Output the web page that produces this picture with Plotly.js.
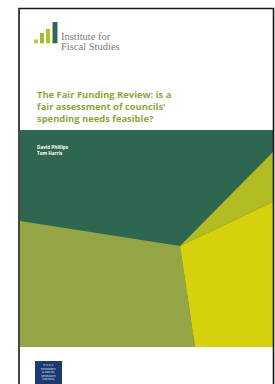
<!DOCTYPE html>
<html><head><meta charset="utf-8">
<script src="https://cdn.plot.ly/plotly-3.0.1.min.js"></script>
<style>html,body{margin:0;padding:0;background:#fff}#c{width:275px;height:384px}</style>
</head><body><div id="c"></div>
<script>
// Cover panel polygons (page coordinates)
const panelX = [20, 273, 273, 20];
const panelY = [130, 130, 347, 347];
const oliveX = [20, 180, 195, 20];
const oliveY = [221, 246, 347, 347];
const limeX = [180, 273, 273];
const limeY = [246, 152, 202];
const yellowX = [180, 273, 273, 195];
const yellowY = [246, 202, 347, 347];
// Logo bars
const barLeft = [34, 40, 46, 52.5];
const barRight = [38, 44, 50, 57.5];
const barTop = [39.5, 33, 29, 22];
const barBase = 43.3;
const barColors = ['#b4cd45', '#9fb83a', '#b5c41c', '#2f6a50'];
// Texts
const logoLines = ['Institute for', 'Fiscal Studies'];
const titleLines = ['The Fair Funding Review: is a', "fair assessment of councils'", 'spending needs feasible?'];
const authors = ['David Phillips', 'Tom Harris'];
const esrcLines = ['E·S·R·C', 'ECONOMIC', '& SOCIAL', 'RESEARCH', 'COUNCIL'];

function poly(xs, ys, color) {
  return {x: xs.concat([xs[0]]), y: ys.concat([ys[0]]), type: 'scatter', mode: 'lines',
    fill: 'toself', fillcolor: color, line: {width: 0, color: color}, hoverinfo: 'skip', showlegend: false};
}
const traces = [
  poly(panelX, panelY, '#2f6650'),
  poly(oliveX, oliveY, '#94a546'),
  poly(limeX, limeY, '#b1bb22'),
  poly(yellowX, yellowY, '#d5d10c')
];
for (let i = 0; i < barLeft.length; i++) {
  traces.push(poly([barLeft[i], barRight[i], barRight[i], barLeft[i]],
                   [barTop[i], barTop[i], barBase, barBase], barColors[i]));
}
traces.push(poly([35, 62, 62, 35], [361, 361, 386, 386], '#1e3a72'));

const ann = [
  {x: 60, y: 36.5, text: logoLines[0], showarrow: false, align: 'left',
   xanchor: 'left', yanchor: 'middle', borderpad: 0,
   font: {family: 'Liberation Serif, serif', size: 10.5, color: '#7a7a7a'}},
  {x: 60, y: 46.8, text: logoLines[1], showarrow: false, align: 'left',
   xanchor: 'left', yanchor: 'middle', borderpad: 0,
   font: {family: 'Liberation Serif, serif', size: 10.5, color: '#7a7a7a'}},
  {x: 35, y: 86, text: titleLines.map(t => '<b>' + t + '</b>').join('<br>'), showarrow: false, align: 'left',
   xanchor: 'left', yanchor: 'top',
   font: {family: 'Open Sans, sans-serif', size: 9.4, color: '#8aa93c'}},
  {x: 35, y: 141.5, text: authors.map(t => '<b>' + t + '</b>').join('<br>'), showarrow: false, align: 'left',
   xanchor: 'left', yanchor: 'top',
   font: {family: 'Open Sans, sans-serif', size: 4.6, color: '#ffffff'}},
  {x: 48.5, y: 362, text: esrcLines.join('<br>'), showarrow: false, align: 'center',
   xanchor: 'center', yanchor: 'top', borderpad: 0,
   font: {family: 'DejaVu Sans, sans-serif', size: 2.7, color: '#dfe6f3'}}
];

const layout = {
  width: 275, height: 384, margin: {l: 0, r: 0, t: 0, b: 0},
  paper_bgcolor: '#ffffff', plot_bgcolor: '#ffffff', showlegend: false,
  xaxis: {range: [0, 275], visible: false, fixedrange: true},
  yaxis: {range: [384, 0], visible: false, fixedrange: true},
  annotations: ann,
  shapes: [{type: 'rect', xref: 'x', yref: 'y', x0: 19, x1: 273.5, y0: 8.5, y1: 392,
    line: {color: '#1a1a1a', width: 1.6}, fillcolor: 'rgba(0,0,0,0)', layer: 'above'}]
};
Plotly.newPlot('c', traces, layout, {displayModeBar: false, staticPlot: true});
</script></body></html>
